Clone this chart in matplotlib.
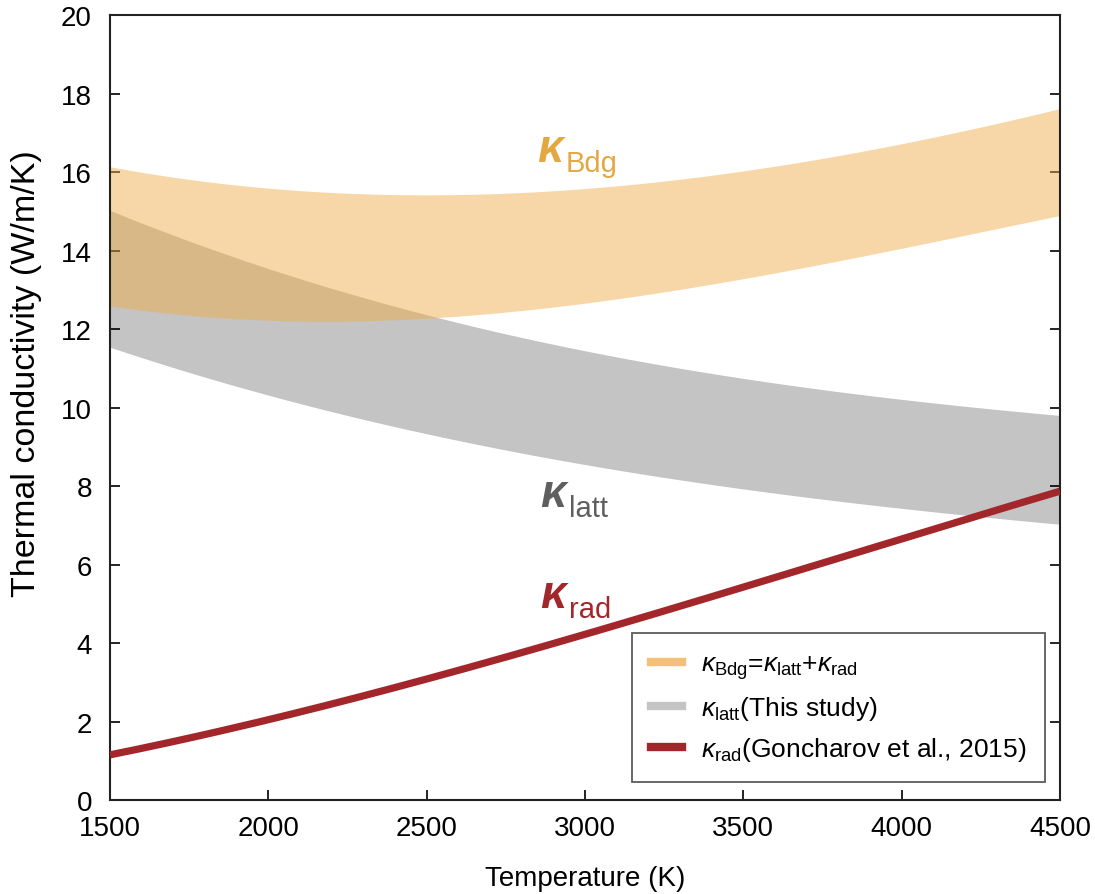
import matplotlib
matplotlib.use("Agg")
import matplotlib.pyplot as plt
import matplotlib.transforms as mtransforms
import numpy as np

plt.rcParams['font.family'] = ['Liberation Sans', 'DejaVu Sans']
plt.rcParams['mathtext.fontset'] = 'custom'
plt.rcParams['mathtext.rm'] = 'Liberation Sans'
plt.rcParams['mathtext.it'] = 'Liberation Sans:italic'
plt.rcParams['mathtext.bf'] = 'Liberation Sans:bold'

# temperature grid (K)
temperature = [1500, 2000, 2500, 3000, 3500, 4000, 4500]

# kappa_Bdg band (W/m/K)
bdg_upper = [16.13, 15.62, 15.38, 15.58, 16.08, 16.68, 17.63]
bdg_lower = [12.59, 12.22, 12.30, 12.65, 13.25, 14.10, 14.88]

# kappa_latt band (W/m/K)
latt_upper = [15.00, 13.60, 12.35, 11.40, 10.75, 10.25, 9.78]
latt_lower = [11.49, 10.45, 9.25, 8.50, 7.95, 7.48, 7.00]

# kappa_rad curve (W/m/K)
rad = [1.15, 2.05, 3.08, 4.22, 5.43, 6.65, 7.87]

# in-plot labels: (subscript, colour, T, baseline)
curve_labels = [('Bdg', '#e3a842', 2848, 16.28),
                ('latt', '#5f5f5f', 2858, 7.50),
                ('rad', '#a3262a', 2858, 4.92)]

ORANGE = (0.94, 0.67, 0.28)
GREY = '#c4c4c4'
RED = '#a3262a'


def smooth(x, y, n=200):
    # smooth curve through the read points
    xs = np.linspace(x[0], x[-1], n)
    coef = np.polyfit(x, y, 3)
    return xs, np.polyval(coef, xs)


fig = plt.figure(figsize=(10.95, 8.95), dpi=100)
ax = fig.add_axes([0.1005, 0.105, 0.8675, 0.877])

t, lu = smooth(temperature, latt_upper)
_, ll = smooth(temperature, latt_lower)
_, bu = smooth(temperature, bdg_upper)
_, bl = smooth(temperature, bdg_lower)
_, rr = smooth(temperature, rad)

ax.fill_between(t, ll, lu, color=GREY, lw=0, zorder=1)
ax.fill_between(t, bl, bu, color=ORANGE, alpha=0.48, lw=0, zorder=2)
ax.plot(t, rr, color=RED, lw=5.2, solid_capstyle='butt', zorder=3)

# curve labels: big bold-italic kappa with a plain subscript
for sub, col, tx, ty in curve_labels:
    ax.text(tx, ty, '\u03ba', color=col, fontsize=33, fontweight='bold',
            fontstyle='italic', ha='left', va='baseline', zorder=5)
    trans = mtransforms.offset_copy(ax.transData, fig=fig, x=29, y=-10,
                                    units='dots')
    ax.text(tx, ty, sub, color=col, fontsize=21, ha='left', va='baseline',
            transform=trans, zorder=5)

# legend proxies
h1, = ax.plot([], [], color=ORANGE, alpha=0.75, lw=6)
h2, = ax.plot([], [], color=GREY, lw=6)
h3, = ax.plot([], [], color=RED, lw=6)
leg = ax.legend([h1, h2, h3],
                [r'$\mathit{\kappa}_{\mathrm{Bdg}}$=$\mathit{\kappa}_{\mathrm{latt}}$+$\mathit{\kappa}_{\mathrm{rad}}$',
                 r'$\mathit{\kappa}_{\mathrm{latt}}$(This study)',
                 r'$\mathit{\kappa}_{\mathrm{rad}}$(Goncharov et al., 2015)'],
                loc='lower right', bbox_to_anchor=(0.984, 0.023),
                borderaxespad=0, fontsize=19, frameon=True, fancybox=False,
                handlelength=1.2, handletextpad=0.7, labelspacing=0.5,
                borderpad=0.7)
leg.get_frame().set_edgecolor('#333333')
leg.get_frame().set_linewidth(1.3)

ax.set_xlim(1500, 4500)
ax.set_ylim(0, 20)
ax.set_xticks(np.arange(1500, 4501, 500))
ax.set_yticks(np.arange(0, 21, 2))
ax.tick_params(direction='in', length=7, width=1.2, labelsize=20,
               left=True, right=True, top=False, bottom=True)
ax.tick_params(axis='x', pad=11)
ax.tick_params(axis='y', pad=13)
for sp in ax.spines.values():
    sp.set_linewidth(1.5)
    sp.set_color('#222222')

ax.set_xlabel('Temperature (K)', fontsize=20, labelpad=17)
ax.set_ylabel('Thermal conductivity (W/m/K)', fontsize=24.5)
ax.yaxis.set_label_coords(-0.0716, 0.544)

fig.savefig('out.png', dpi=100)
